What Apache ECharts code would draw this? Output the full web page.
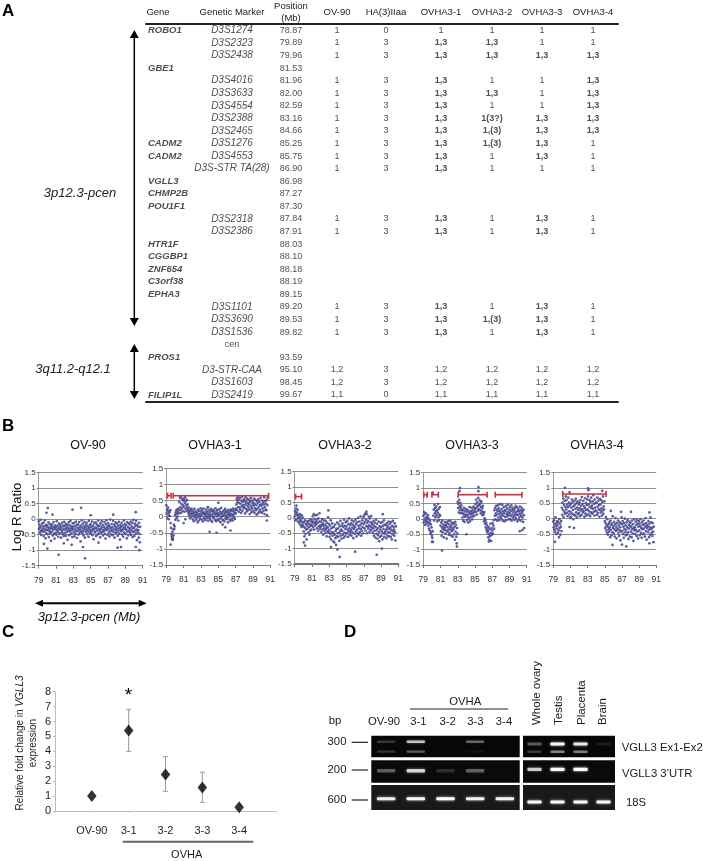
<!DOCTYPE html>
<html><head><meta charset="utf-8">
<script src="https://cdn.jsdelivr.net/npm/echarts@6/dist/echarts.min.js"></script>
<style>html,body{margin:0;padding:0;background:#fff}#c{width:703px;height:861px;filter:blur(0.35px)}</style>
</head><body><div id="c"></div>
<script>
// ---------- Panel A data ----------
const tableHeaders = ['Gene','Genetic Marker','Position\n(Mb)','OV-90','HA(3)IIaa','OVHA3-1','OVHA3-2','OVHA3-3','OVHA3-4'];
const genes = ['ROBO1','','','GBE1','','','','','','CADM2','CADM2','','VGLL3','CHMP2B','POU1F1','','','HTR1F','CGGBP1','ZNF654','C3orf38','EPHA3','','','','','PROS1','','','FILIP1L'];
const markers = ['D3S1274','D3S2323','D3S2438','','D3S4016','D3S3633','D3S4554','D3S2388','D3S2465','D3S1276','D3S4553','D3S-STR TA(28)','','','','D3S2318','D3S2386','','','','','','D3S1101','D3S3690','D3S1536','cen','','D3-STR-CAA','D3S1603','D3S2419'];
const positions = ['78.87','79.89','79.96','81.53','81.96','82.00','82.59','83.16','84.66','85.25','85.75','86.90','86.98','87.27','87.30','87.84','87.91','88.03','88.10','88.18','88.19','89.15','89.20','89.53','89.82','','93.59','95.10','98.45','99.67'];
const callsOV90 = ['1','1','1','','1','1','1','1','1','1','1','1','','','','1','1','','','','','','1','1','1','','','1,2','1,2','1,1'];
const callsHA = ['0','3','3','','3','3','3','3','3','3','3','3','','','','3','3','','','','','','3','3','3','','','3','3','0'];
const calls31 = ['1','1,3','1,3','','1,3','1,3','1,3','1,3','1,3','1,3','1,3','1,3','','','','1,3','1,3','','','','','','1,3','1,3','1,3','','','1,2','1,2','1,1'];
const calls32 = ['1','1,3','1,3','','1','1,3','1','1(3?)','1,(3)','1,(3)','1','1','','','','1','1','','','','','','1','1,(3)','1','','','1,2','1,2','1,1'];
const calls33 = ['1','1','1,3','','1','1','1','1,3','1,3','1,3','1,3','1','','','','1,3','1,3','','','','','','1,3','1,3','1,3','','','1,2','1,2','1,1'];
const calls34 = ['1','1','1,3','','1,3','1,3','1,3','1,3','1,3','1','1','1','','','','1','1','','','','','','1','1','1','','','1,2','1,2','1,1'];
const rowIds = genes.map((_, i) => String(i));

// ---------- Panel B data: log R ratio in hundredths, each row = [bin start (Mb), readings across 0.5 Mb] ----------
const cloudOV90 = [
[79,-8,-32,-18,-44,-27,-3,-38,-51,-22,-35,-14,-41],[79.5,-30,-12,-55,-24,-40,-5,-33,-62,-19,-46,-26,-36],
[80,-21,-49,-34,-11,-58,-28,-39,-16,-45,-31,-70,-23],[80.5,-42,-17,-29,-53,-35,-10,-48,-25,-63,-32,-20,-44],
[81,-27,-50,-7,-36,-22,-41,-57,-30,-15,-46,-33,-24],[81.5,-18,-34,-60,-26,-43,-12,-37,-49,-21,-31,-55,-9],
[82,-45,-23,-35,-16,-54,-30,-42,-19,-67,-27,-38,-11],[82.5,-33,-52,-20,-40,-6,-29,-47,-24,-36,-58,-14,-31],
[83,-25,-43,-13,-56,-34,-22,-48,-8,-39,-28,-61,-17],[83.5,-37,-19,-50,-30,-10,-44,-26,-35,-72,-21,-41,-4],
[84,-29,-46,-15,-38,-53,-24,-33,-9,-60,-27,-42,-18],[84.5,-35,-12,-49,-23,-40,-31,-57,-6,-28,-44,-20,-36],
[85,-16,-47,-26,-39,-8,-52,-32,-21,-65,-34,-13,-43],[85.5,-28,-41,-11,-55,-30,-18,-37,-50,-24,-5,-46,-33],
[86,-22,-38,-59,-14,-32,-45,-27,-7,-41,-19,-53,-35],[86.5,-40,-25,-10,-48,-31,-63,-17,-36,-4,-29,-51,-23],
[87,-13,-34,-44,-20,-56,-27,-2,-39,-30,-49,-16,-37],[87.5,-26,-52,-6,-41,-33,-18,-60,-24,-45,-11,-35,-28],
[88,-43,-15,-31,-54,-22,-38,-9,-47,-29,-66,-19,-34],[88.5,-25,-40,-12,-50,-36,-21,-57,-30,-5,-44,-27,-16],
[89,-32,-48,-20,-35,-62,-10,-41,-26,-53,-14,-38,-29],[89.5,-17,-45,-33,-8,-51,-24,-39,-13,-58,-30,-3,-42],
[90,-28,-55,-15,-37,-22,-47,-6,-34,-68,-19,-43,-25],[90.5,-36,-60,-12,-48,-75,-25]];
const strayOV90 = [[82.9,30],[83.9,36],[80.05,35],[79.9,20],[81.3,-115],[84.35,-126],[80,-95],[84.1,-90],[90.2,22],[90.6,-100],[88.1,-92],[88.5,-90],[90.2,-90],[82.8,-83],[79.6,-80],[81.9,-78],[85.9,-76],[80.6,14],[85,12],[87.6,14]];
const cloud31 = [
[79,35,10,22,-5,18,28,5,-8,12,15,2,20],[79.5,-20,-35,-55,-62,-70,-48,-66,-40,-58,-25,-38,-30],
[80,5,-10,12,18,-5,8,22,0,15,-12,25,10],[80.5,45,20,58,30,62,12,40,25,55,18,35,50],
[81,30,55,15,42,60,25,48,35,18,52,28,38],[81.5,20,12,28,5,15,-5,22,8,18,0,25,10],
[82,8,-8,18,2,-14,12,24,-2,6,16,-10,4],[82.5,14,-4,10,-18,22,5,-12,18,0,9,-6,26],
[83,3,15,-9,20,7,-15,11,25,-3,13,-7,6],[83.5,-11,9,22,1,16,-5,10,28,-13,4,19,-2],
[84,12,-7,5,24,-12,17,2,-16,8,21,-4,14],[84.5,-3,18,6,-10,26,9,-14,13,1,20,-8,7],
[85,10,-12,23,4,-6,16,-17,11,27,-1,8,-9],[85.5,15,2,-11,19,6,-15,12,24,-5,3,17,-8],
[86,-4,13,7,-18,21,0,10,-9,16,5,-13,22],[86.5,9,-6,18,3,-12,25,6,-3,14,20,-7,11],
[87,10,25,38,55,20,45,60,30,52,15,42,28],[87.5,58,22,40,12,50,32,62,18,46,36,26,54],
[88,30,48,10,38,60,24,44,16,55,34,20,42],[88.5,28,52,38,8,46,22,58,32,14,50,26,40],
[89,44,18,34,56,12,40,26,52,20,36,6,48],[89.5,24,42,10,54,30,16,46,36,22,58,14,38],
[90,34,12,50,26,44,18,38,60,8,30,48,22],[90.5,40,20,52,5,36,60]];
const stray31 = [[84,-47],[84.8,-50],[85.8,-33],[86.4,-43],[79.5,-87],[81,-20],[90.6,-12],[85,43],[83.8,30],[79.75,-72],[85.5,-25],[81.2,-8]];
const cloud32 = [
[79,5,22,-8,14,30,-4,18,8,26,-12,10,2],[79.5,-2,-18,12,-10,4,-24,-6,-30,8,-14,-22,0],
[80,-28,-44,-15,-60,-32,-8,-52,-20,-38,-70,-25,-12],[80.5,-35,-18,-48,-10,-30,-55,-22,-42,-5,-26,-38,-14],
[81,-8,-22,5,-30,-14,12,-38,-4,-18,-26,8,-12],[81.5,-20,-6,-34,10,-16,-42,-2,-28,-12,15,-36,-24],
[82,-30,-12,-46,-24,-4,-38,-18,-55,-26,-8,-34,-42],[82.5,-22,-50,-10,-36,-28,-60,-16,-44,-32,2,-48,-20],
[83,-40,-62,-25,-52,-8,-70,-34,-46,-18,-58,-30,-76],[83.5,-48,-30,-80,-55,-22,-66,-42,-88,-36,-60,-15,-50],
[84,-35,-62,-20,-50,-75,-28,-44,-10,-58,-38,-68,-25],[84.5,-42,-18,-55,-30,-65,-6,-48,-26,-60,-36,-14,-52],
[85,-28,-50,-10,-38,-62,-20,-44,-2,-34,-56,-24,-46],[85.5,-18,-40,-58,-8,-32,-48,-22,-66,-12,-36,-28,-52],
[86,-30,-6,-44,-20,-60,-14,-38,-50,0,-26,-54,-34],[86.5,-12,-46,-24,5,-36,-58,-18,-42,-8,-30,-50,2],
[87,-20,8,-34,-14,14,-42,-6,-26,12,-50,-16,-30],[87.5,-10,-36,4,-24,-46,-2,-28,-14,-40,6,-32,-18],
[88,-22,-48,-34,-10,-58,-26,-42,-16,-64,-30,-6,-52],[88.5,-40,-20,-68,-34,-56,-12,-46,-76,-28,-62,-38,-16],
[89,-30,-58,-44,-14,-70,-26,-50,-36,-8,-62,-22,-46],[89.5,-52,-24,-40,-66,-18,-34,-58,-28,-46,-12,-60,-36],
[90,-20,-48,-32,-62,-14,-40,-70,-26,-54,-10,-44,-30],[90.5,-38,-58,-18,-46,-74,-28]];
const stray32 = [[84.2,-127],[83.95,-103],[88.5,-120],[86,-110],[89.1,-100],[83.2,-95],[80.2,-90],[79.2,40],[82.9,24],[80.05,-80],[87.3,20],[89.2,12]];
const cloud33 = [
[79,10,-12,22,-5,15,-20,3,18,-8,-15,6,-2],[79.5,-10,12,-22,2,-32,-14,-38,-6,-48,-18,-44,-28],
[80,-55,-62,-40,-75,10,30,-5,45,18,35,5,25],[80.5,40,12,28,-8,20,48,5,32,-4,14,38,10],
[81,-22,-40,-12,-55,-28,-6,-44,-32,-18,-60,-36,-24],[81.5,-30,-10,-48,-20,-38,-64,-14,-26,-42,-8,-34,-52],
[82,-18,-46,-28,-6,-36,-54,-22,-12,-40,-30,-58,-16],[82.5,-34,-14,-50,-26,-68,-10,-42,-20,-58,-80,-30,-48],
[83,55,35,48,20,62,40,28,52,36,18,44,30],[83.5,20,4,28,-6,16,36,10,-10,24,6,32,14],
[84,12,30,-4,22,8,-12,26,2,16,38,-8,20],[84.5,6,24,14,36,-2,28,18,8,40,22,10,34],
[85,30,48,22,62,36,14,54,42,26,68,32,46],[85.5,44,60,28,50,18,38,56,24,34,12,42,20],
[86,14,-8,22,2,-16,-4,-28,-12,-36,-20,-44,-30],[86.5,-40,-60,-26,-50,-68,-34,-56,-16,-46,-72,-30,-52],
[87,-38,-14,-48,-22,-4,-32,28,10,36,-2,18,42],[87.5,12,30,-6,24,44,4,34,16,-4,26,48,8],
[88,20,2,32,14,46,-6,24,10,38,18,-8,28],[88.5,6,26,42,-4,16,34,8,22,46,12,-2,30],
[89,18,38,0,24,10,44,-6,30,14,36,4,22],[89.5,28,8,-4,34,16,42,2,22,12,38,-8,26],
[90,14,32,-2,24,6,40,16,-6,28,10,36,20],[90.5,4,26,-10,30,12,-30]];
const stray33 = [[83.25,100],[85.4,103],[81.17,-103],[82.9,-90],[80.1,85],[84,-50],[80,-75],[90.5,-36],[83.2,90],[85.4,90],[86.6,-74],[90.2,-40]];
const cloud34 = [
[79,-10,-28,-5,-35,-18,-42,4,-24,-50,-14,-32,-8],[79.5,-22,-46,-12,-38,-60,-2,-30,-16,-52,-26,-8,-40],
[80,35,12,52,28,65,5,44,22,58,16,38,72],[80.5,30,60,18,46,8,38,68,24,52,14,42,2],
[81,22,48,6,36,62,16,54,28,-2,40,12,58],[81.5,44,10,32,64,20,50,4,36,56,14,28,46],
[82,18,52,34,8,60,26,42,12,70,30,48,20],[82.5,58,24,40,6,34,66,16,50,28,10,44,62],
[83,30,72,14,46,24,60,38,8,54,20,68,34],[83.5,42,16,56,32,76,22,48,10,62,36,26,52],
[84,24,50,12,68,38,18,58,30,44,6,64,28],[84.5,46,20,60,34,10,54,26,72,16,40,30,56],
[85,-8,-30,-14,5,-38,-22,-46,-2,-26,-52,-18,-34],[85.5,-42,-12,-28,-60,-6,-36,-20,-54,-16,-44,8,-30],
[86,-24,-48,-10,-34,-58,-18,2,-40,-26,-64,-14,-36],[86.5,-32,-6,-46,-22,-56,-12,-38,-28,-70,-16,-42,4],
[87,-18,-40,-8,-50,-26,-62,-14,-34,0,-44,-22,-54],[87.5,-36,-12,-52,-28,-4,-44,-66,-20,-32,-10,-58,-24],
[88,-14,-42,-26,-60,-6,-34,-48,-18,-72,-30,-2,-38],[88.5,-28,-50,-10,-36,-20,-56,-4,-42,-16,-64,-26,-8],
[89,-38,-16,-54,-24,-2,-46,-30,-62,-12,-34,-20,-50],[89.5,-6,-32,-48,-18,-58,-26,2,-40,-14,-68,-30,-22],
[90,-24,-44,-8,-36,-60,-16,-28,-52,4,-34,-12,-46],[90.5,-30,-56,-14,-42,-76,-26]];
const stray34 = [[80.35,100],[83.05,98],[81.4,-30],[80.9,-27],[86.9,22],[88.05,22],[85.9,-85],[87.5,-90],[90.2,-80],[79.2,-75],[85.7,25],[90.2,20],[80.9,85],[83.1,92],[84.7,90],[87,-84]];
const spans31 = [[79.15,79.55],[79.8,90.8]];
const spans32 = [[79.1,79.8]];
const spans33 = [[79.05,79.45],[80,80.75],[83.05,86.4],[87.35,90.45]];
const spans34 = [[80.1,85.15]];
const panelNames = ['OV-90','OVHA3-1','OVHA3-2','OVHA3-3','OVHA3-4'];
const panelClouds = [cloudOV90,cloud31,cloud32,cloud33,cloud34];
const panelStrays = [strayOV90,stray31,stray32,stray33,stray34];
const panelSpans = [[],spans31,spans32,spans33,spans34];
const panelSpanLevels = [0,0.65,0.69,0.785,0.8];

// ---------- Panel C data ----------
const qpcrX = [1,2,3,4,5];
const qpcrLabels = ['','OV-90','3-1','3-2','3-3','3-4',''];
const qpcrMean = [1,5.4,2.45,1.57,0.25];
const qpcrHigh = [1,6.82,3.64,2.6,0.25];
const qpcrLow = [1,4.0,1.32,0.58,0.25];

// ---------- Panel D data: band brightness per lane ----------
const lanesOvha = ['OV-90','3-1','3-2','3-3','3-4'];
const lanesTissue = ['Whole ovary','Testis','Placenta','Brain'];
const ovhaEx1Upper = [.18,.7,0,.35,0];
const ovhaEx1Lower = [.18,.32,0,.05,0];
const ovhaUtr = [.3,.75,.14,.32,0];
const ovha18S = [.9,.95,1,.9,.9];
const tissueEx1Upper = [.3,.95,.85,.1];
const tissueEx1Lower = [.2,.45,.42,0];
const tissueUtr = [.72,.97,1,0];
const tissue18S = [.95,.95,.95,.95];

// ---------- Layout ----------
const FONT = '"Liberation Sans", Arial, sans-serif';
const NARROW = '"Liberation Sans Narrow", "Liberation Sans", sans-serif';
const colCenters = [158,232,291,337,386,441,492,542,593];
const panelBoxes = [
 {l:38.7,r:142.7,t:472.3,b:565.7,c:88},{l:166.3,r:270.3,t:468.3,b:565,c:215},
 {l:294.7,r:398.3,t:471.7,b:564,c:345},{l:423.3,r:526.7,t:472.7,b:565,c:472},{l:553.3,r:656.3,t:472.3,b:565,c:597}];
const gelRowsY = [[0,21.6],[24.6,47],[49.3,74.3]];
const gelRowFill = ['#070707','#0a0a0a','#191919'];
const bandRows = {ex1U:[6,2.6],ex1L:[16,2.2],utr:[35,3.4],s18:[63,3]};
const tissueBandY = {ex1U:[8.3,2.8],ex1L:[16,2.4],utr:[33.6,3.2],s18:[66.3,3]};

const grid=[], xAxis=[], yAxis=[], series=[], graphic=[];

function txt(x,y,text,o={}){graphic.push({type:'text',x,y,rotation:o.rot||0,silent:true,style:Object.assign({text,x:0,y:0,fontFamily:o.family||FONT,fontSize:o.size||11,fontWeight:o.weight||'normal',fontStyle:o.style||'normal',fill:o.fill||'#1a1a1a',align:o.align||'center',verticalAlign:o.va||'middle'},o.rich?{rich:o.rich}:{},o.lh?{lineHeight:o.lh}:{})});}
function vArrow(x,top,bot,up,down,w,hl,hw){
  graphic.push({type:'line',silent:true,shape:{x1:x,y1:top+(up?hl-1:0),x2:x,y2:bot-(down?hl-1:0)},style:{stroke:'#000',lineWidth:w}});
  if(up)graphic.push({type:'polygon',silent:true,shape:{points:[[x,top],[x-hw,top+hl],[x+hw,top+hl]]},style:{fill:'#000'}});
  if(down)graphic.push({type:'polygon',silent:true,shape:{points:[[x,bot],[x-hw,bot-hl],[x+hw,bot-hl]]},style:{fill:'#000'}});
}
function hArrow(y,l,r,w,hl,hw){
  graphic.push({type:'line',silent:true,shape:{x1:l+hl-1,y1:y,x2:r-hl+1,y2:y},style:{stroke:'#000',lineWidth:w}});
  graphic.push({type:'polygon',silent:true,shape:{points:[[l,y],[l+hl,y-hw],[l+hl,y+hw]]},style:{fill:'#000'}});
  graphic.push({type:'polygon',silent:true,shape:{points:[[r,y],[r-hl,y-hw],[r-hl,y+hw]]},style:{fill:'#000'}});
}
function hRule(x1,x2,y,w,c){graphic.push({type:'line',silent:true,shape:{x1,y1:y,x2,y2:y},style:{stroke:c,lineWidth:w}});}

// ---------- Panel letters ----------
txt(2,11,'A',{size:17,weight:'bold',align:'left',fill:'#000'});
txt(2,426,'B',{size:17,weight:'bold',align:'left',fill:'#000'});
txt(2,632,'C',{size:17,weight:'bold',align:'left',fill:'#000'});
txt(344,632,'D',{size:17,weight:'bold',align:'left',fill:'#000'});

// ---------- Panel A ----------
grid.push({left:146,width:472,top:22.4,height:378.9});
xAxis.push({gridIndex:0,type:'value',position:'top',min:146,max:618,splitLine:{show:false},axisTick:{show:false},
  axisLine:{show:true,onZero:false,lineStyle:{color:'#222',width:2}},
  axisLabel:{customValues:colCenters,margin:12,verticalAlign:'middle',fontFamily:FONT,fontSize:9.5,fontWeight:500,color:'#222',lineHeight:12,formatter:v=>tableHeaders[colCenters.indexOf(v)]}});
yAxis.push({gridIndex:0,type:'category',inverse:true,data:rowIds,axisLine:{show:false},axisTick:{show:false},axisLabel:{show:false}});
const tableCols = [
 {vals:genes,col:0,style:{fontWeight:'bold',fontStyle:'italic',fontSize:9.5,align:'left',fontFamily:FONT},x:()=>148},
 {vals:markers,col:1,style:{fontStyle:'italic',fontSize:10,align:'center',fontFamily:FONT}},
 {vals:positions,col:2,style:{fontSize:9,align:'center',fontFamily:NARROW}},
 {vals:callsOV90,col:3},{vals:callsHA,col:4},{vals:calls31,col:5},{vals:calls32,col:6},{vals:calls33,col:7},{vals:calls34,col:8}];
tableCols.forEach(c=>{
  series.push({type:'scatter',xAxisIndex:0,yAxisIndex:0,symbolSize:0,silent:true,
    data:c.vals.map((v,i)=>{
      if(!v)return null;
      const bold=c.col>=3&&(v.includes('3')&&v!=='3');
      let st=Object.assign({fontSize:9,align:'center',fontFamily:FONT,fontWeight:bold?'bold':'normal'},c.style||{});
      if(v==='cen')st=Object.assign({},st,{fontStyle:'normal',fontSize:9});
      return {value:[c.x?c.x():colCenters[c.col],String(i)],label:Object.assign({show:true,position:'inside',distance:0,color:'#222',verticalAlign:'middle',formatter:()=>v},st)};
    }).filter(Boolean)});
});
vArrow(134.3,30,326,true,true,1.5,8,4.5);
vArrow(134.3,344,399,true,true,1.5,8,4.5);
txt(80,193,'3p12.3-pcen',{size:13,style:'italic',fill:'#222'});
txt(73,369,'3q11.2-q12.1',{size:13,style:'italic',fill:'#222'});

// ---------- Panel B ----------
panelBoxes.forEach((b,p)=>{
  const g=grid.length;
  grid.push({left:b.l,width:b.r-b.l,top:b.t,height:b.b-b.t});
  xAxis.push({gridIndex:g,type:'value',min:79,max:91,interval:2,splitLine:{show:false},
    axisLine:{onZero:false,lineStyle:{color:'#777',width:p===2?2:1}},axisTick:{length:3,lineStyle:{color:'#777'}},
    axisLabel:{margin:10,fontFamily:NARROW,fontSize:8.5,color:'#333'}});
  yAxis.push({gridIndex:g,type:'value',min:-1.5,max:1.5,interval:0.5,
    splitLine:{lineStyle:{color:'#8f8f8f',width:1}},axisLine:{show:true,onZero:false,lineStyle:{color:'#999'}},axisTick:{length:2,lineStyle:{color:'#777'}},
    axisLabel:{margin:3,fontFamily:NARROW,fontSize:8,color:'#333',showMinLabel:true,showMaxLabel:true,formatter:v=>String(v)}});
  const pts=[];
  panelClouds[p].forEach(r=>{for(let i=1;i<r.length;i++)pts.push([r[0]+(i-1)*0.5/12,r[i]/100]);});
  panelStrays[p].forEach(s=>pts.push([s[0],s[1]/100]));
  series.push({type:'scatter',xAxisIndex:g,yAxisIndex:g,symbol:'circle',symbolSize:2.7,silent:true,itemStyle:{color:'#4a4a92',opacity:.9},data:pts});
  if(panelSpans[p].length){
    const lvl=panelSpanLevels[p];
    series.push({type:'custom',coordinateSystem:'cartesian2d',xAxisIndex:g,yAxisIndex:g,silent:true,z:5,data:panelSpans[p],encode:{x:[0,1]},
      renderItem:(params,api)=>{
        const a=api.coord([api.value(0),lvl]),c=api.coord([api.value(1),lvl]);
        const st={stroke:'#c9303c',lineWidth:1.6};
        return {type:'group',children:[
          {type:'line',shape:{x1:a[0],y1:a[1],x2:c[0],y2:c[1]},style:st},
          {type:'line',shape:{x1:a[0],y1:a[1]-3,x2:a[0],y2:a[1]+3},style:st},
          {type:'line',shape:{x1:c[0],y1:c[1]-3,x2:c[0],y2:c[1]+3},style:st}]};
      }});
  }
  txt(b.c,446,panelNames[p],{size:12.5,fill:'#111'});
});
txt(17,517,'Log R Ratio',{size:13,rot:Math.PI/2,fill:'#111'});
hArrow(603.3,35,146.7,2,8,3.5);
txt(89,617,'3p12.3-pcen (Mb)',{size:13,style:'italic',fill:'#111'});

// ---------- Panel C ----------
const gC=grid.length;
grid.push({left:55,width:221,top:691.7,height:119.3});
xAxis.push({gridIndex:gC,type:'value',min:0,max:6,interval:1,splitLine:{show:false},axisLine:{onZero:false,lineStyle:{color:'#bdbdbd'}},axisTick:{length:2,lineStyle:{color:'#ccc'}},
  axisLabel:{margin:14,fontFamily:FONT,fontSize:11,color:'#222',showMinLabel:true,showMaxLabel:true,formatter:v=>qpcrLabels[v]}});
yAxis.push({gridIndex:gC,type:'value',min:0,max:8,interval:1,splitLine:{show:false},axisLine:{show:true,lineStyle:{color:'#bdbdbd'}},axisTick:{length:2,lineStyle:{color:'#bdbdbd'}},
  axisLabel:{margin:4,fontFamily:FONT,fontSize:11,color:'#222'}});
series.push({type:'custom',coordinateSystem:'cartesian2d',xAxisIndex:gC,yAxisIndex:gC,silent:true,z:2,data:qpcrX.map((x,i)=>[x,qpcrLow[i],qpcrHigh[i]]),encode:{x:0,y:[1,2]},
  renderItem:(params,api)=>{
    const a=api.coord([api.value(0),api.value(1)]),c=api.coord([api.value(0),api.value(2)]);
    if(api.value(1)===api.value(2))return null;
    const st={stroke:'#9a9a9a',lineWidth:1};
    return {type:'group',children:[
      {type:'line',shape:{x1:a[0],y1:a[1],x2:c[0],y2:c[1]},style:st},
      {type:'line',shape:{x1:a[0]-2.5,y1:a[1],x2:a[0]+2.5,y2:a[1]},style:st},
      {type:'line',shape:{x1:c[0]-2.5,y1:c[1],x2:c[0]+2.5,y2:c[1]},style:st}]};
  }});
series.push({type:'scatter',xAxisIndex:gC,yAxisIndex:gC,symbol:'diamond',symbolSize:[9.5,12],silent:true,z:3,itemStyle:{color:'#000'},data:qpcrX.map((x,i)=>[x,qpcrMean[i]])});
txt(128.5,696,'*',{size:19,fill:'#000'});
txt(27,743,'Relative fold change in {i|VGLL3}\nexpression',{size:10,lh:12.6,rot:Math.PI/2,fill:'#222',rich:{i:{fontFamily:FONT,fontSize:10,fontStyle:'italic',fill:'#222',lineHeight:12.6}}});
hRule(122.7,253.3,841.7,2,'#666');
txt(186.7,855,'OVHA',{size:11,fill:'#222'});

// ---------- Panel D ----------
function gel(left,width,lanes,bands,layers){
  const g=grid.length;
  grid.push({left,width,top:735.7,height:74.3});
  xAxis.push({gridIndex:g,type:'category',data:lanes,axisLine:{show:false},axisTick:{show:false},axisLabel:{show:false}});
  yAxis.push({gridIndex:g,type:'value',inverse:true,min:0,max:74.3,splitLine:{show:false},axisLine:{show:false},axisTick:{show:false},axisLabel:{show:false}});
  series.push({type:'custom',coordinateSystem:'cartesian2d',xAxisIndex:g,yAxisIndex:g,silent:true,z:1,data:gelRowsY.map((r,i)=>[0,r[0],r[1],i]),encode:{x:0,y:[1,2]},
    renderItem:(params,api)=>{
      const s=params.coordSys,a=api.coord([0,api.value(1)]),c=api.coord([0,api.value(2)]);
      return {type:'rect',shape:{x:s.x,y:a[1],width:s.width,height:c[1]-a[1]},style:{fill:gelRowFill[api.value(3)]}};
    }});
  series.push({type:'custom',coordinateSystem:'cartesian2d',xAxisIndex:g,yAxisIndex:g,silent:true,z:2,clip:false,
    data:bands.flatMap((b,k)=>b.map((v,i)=>[i,layers[k][0],v,layers[k][1]])).filter(d=>d[2]>0),encode:{x:0,y:1},
    renderItem:(params,api)=>{
      const p=api.coord([api.value(0),api.value(1)]),v=api.value(2),h=api.value(3),w=api.size([1,0])[0]*0.62;
      return {type:'rect',shape:{x:p[0]-w/2,y:p[1]-h/2,width:w,height:h,r:1},
        style:{fill:'rgba(255,255,255,'+v+')',shadowBlur:3,shadowColor:'rgba(255,255,255,'+v*0.8+')'}};
    }});
}
gel(371.3,148.4,lanesOvha,[ovhaEx1Upper,ovhaEx1Lower,ovhaUtr,ovha18S],[bandRows.ex1U,bandRows.ex1L,bandRows.utr,bandRows.s18]);
gel(523,92,lanesTissue,[tissueEx1Upper,tissueEx1Lower,tissueUtr,tissue18S],[tissueBandY.ex1U,tissueBandY.ex1L,tissueBandY.utr,tissueBandY.s18]);
const laneTextX=[384,418.3,447.7,475.3,504];
lanesOvha.forEach((n,i)=>txt(laneTextX[i],722.3,n,{size:11.3}));
txt(335,721,'bp',{size:11.3});
txt(465.3,701.7,'OVHA',{size:11.3});
hRule(410,508.3,709,1.2,'#222');
const tissueTextX=[537.3,559,581.7,603.3];
lanesTissue.forEach((n,i)=>txt(tissueTextX[i],725,n,{size:11.5,rot:Math.PI/2,align:'left'}));
[['300',742.3],['200',770],['600',800]].forEach(r=>{txt(337,r[1],r[0],{size:11.3});hRule(351.7,368,r[1],1.2,'#222');});
txt(621.7,748.3,'VGLL3 Ex1-Ex2',{size:11.3,align:'left'});
txt(622,773.7,"VGLL3 3’UTR",{size:11.3,align:'left'});
txt(626,803.3,'18S',{size:11.3,align:'left'});

// bottom rule of the table sits on a second x axis of the table grid
xAxis.push({gridIndex:0,type:'value',position:'bottom',min:146,max:618,splitLine:{show:false},axisTick:{show:false},axisLabel:{show:false},axisLine:{show:true,onZero:false,lineStyle:{color:'#222',width:2}}});

const chart=echarts.init(document.getElementById('c'),null,{renderer:'canvas',width:703,height:861});
chart.setOption({animation:false,backgroundColor:'#fff',grid,xAxis,yAxis,series,graphic:{elements:graphic}});
</script></body></html>
